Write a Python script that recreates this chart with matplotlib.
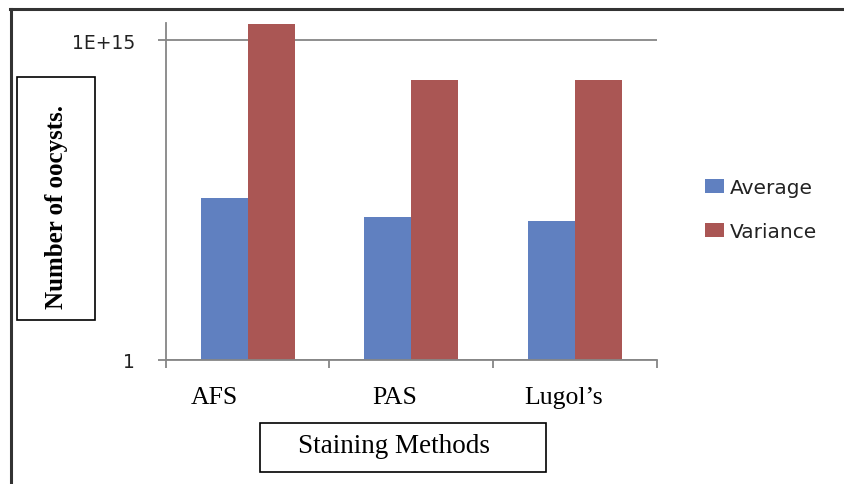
import matplotlib
matplotlib.use("Agg")
import matplotlib.pyplot as plt
from matplotlib.patches import Rectangle
from matplotlib.lines import Line2D
import numpy as np

categories = ["AFS", "PAS", "Lugol\u2019s"]
average = [3.7e7, 5.0e6, 3.1e6]
variance = [5.9e15, 1.4e13, 1.4e13]
series_names = ["Average", "Variance"]
ytick_vals = [1, 1e15]
ytick_labels = ["1", "1E+15"]

BLUE = "#6080C0"
RED = "#AA5654"
AXC = "#868686"

W, H = 844, 485
fig = plt.figure(figsize=(W / 100, H / 100), dpi=100)
ax = fig.add_axes([165.7 / W, 1 - 360.7 / H, (657 - 165.7) / W, (360.7 - 24) / H])

x = np.arange(len(categories))
bw = 0.287
ax.bar(x - bw / 2, average, bw, color=BLUE, label=series_names[0], bottom=1)
ax.bar(x + bw / 2, variance, bw, color=RED, label=series_names[1], bottom=1)

ax.set_yscale("log")
ax.set_ylim(1, 10 ** 15.8)
ax.set_xlim(-0.5, len(categories) - 0.5)
ax.set_yticks(ytick_vals)
ax.set_yticklabels(ytick_labels)
ax.yaxis.set_minor_locator(matplotlib.ticker.NullLocator())
ax.yaxis.grid(True, which="major", color=AXC, linewidth=1.3)
ax.set_axisbelow(True)

# category boundary ticks (marks only)
ax.set_xticks(np.arange(len(categories) + 1) - 0.5)
ax.set_xticklabels([])
# category labels as minor tick labels (shifted as in the reference)
label_shift = [-0.205, -0.10, -0.07]
ax.set_xticks(x + np.array(label_shift), minor=True)
ax.set_xticklabels(categories, minor=True, fontfamily="Liberation Serif", fontsize=18.5)
ax.tick_params(axis="x", which="minor", length=0, pad=19)
ax.tick_params(axis="x", which="major", length=6, width=1.3, color=AXC, direction="out")
ax.tick_params(axis="y", which="major", length=6, width=1.3, color=AXC, direction="out",
               pad=16, labelsize=13.5)
for lab in ax.get_yticklabels():
    lab.set_fontfamily("DejaVu Sans")
    lab.set_color("#222222")

for s in ["top", "right"]:
    ax.spines[s].set_visible(False)
for s in ["left", "bottom"]:
    ax.spines[s].set_color(AXC)
    ax.spines[s].set_linewidth(1.3)

leg = ax.legend(loc="upper left", bbox_to_anchor=(705 / W, 1 - 179 / H),
                bbox_transform=fig.transFigure, frameon=False,
                prop={"family": "DejaVu Sans", "size": 14.5},
                handlelength=0.95, handleheight=0.65, handletextpad=0.3,
                labelspacing=1.25, borderaxespad=0, borderpad=0)
for t in leg.get_texts():
    t.set_color("#222222")

def px_rect(x0, y0, x1, y1, lw=1.2, color="black"):
    fig.patches.append(Rectangle((x0 / W, 1 - y1 / H), (x1 - x0) / W, (y1 - y0) / H,
                                 transform=fig.transFigure, fill=False,
                                 edgecolor=color, linewidth=lw))

# y-label box
px_rect(17, 78, 95, 321)
fig.text(57 / W, 1 - 207 / H, "Number of oocysts.", rotation=90, ha="center", va="center",
         fontfamily="Liberation Serif", fontweight="bold", fontsize=18)

# x-label box
px_rect(260, 424, 546, 473)
fig.text(394 / W, 1 - 447 / H, "Staining Methods", ha="center", va="center",
         fontfamily="Liberation Serif", fontsize=19.5)

# outer frame (top and left edges visible)
fig.add_artist(Line2D([10 / W, 1], [1 - 9.5 / H, 1 - 9.5 / H], transform=fig.transFigure,
                      color="#333333", linewidth=2.2))
fig.add_artist(Line2D([11 / W, 11 / W], [0, 1 - 9.5 / H], transform=fig.transFigure,
                      color="#333333", linewidth=2.2))

fig.savefig("out.png", dpi=100)
